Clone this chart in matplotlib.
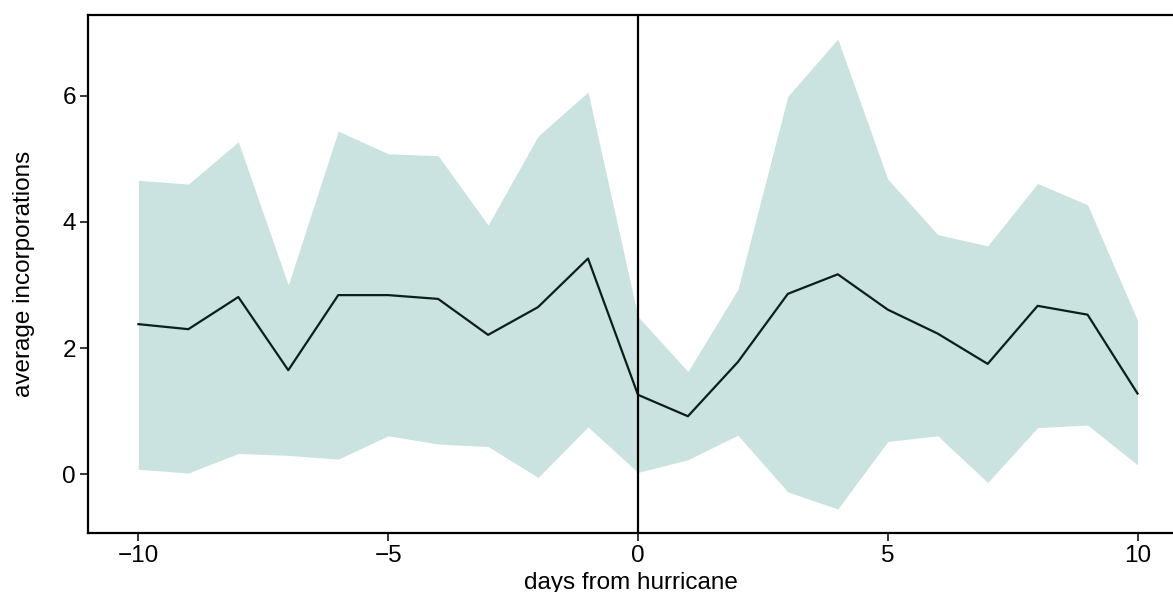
import numpy as np
import matplotlib.pyplot as plt

plt.rcParams['font.family'] = ['Liberation Sans', 'DejaVu Sans']

# days relative to landfall
days = list(range(-10, 11))

# mean incorporations per day, with lower/upper band
mean_inc = [2.38, 2.30, 2.81, 1.65, 2.84, 2.84, 2.78, 2.21, 2.65, 3.42, 1.26,
            0.92, 1.78, 2.86, 3.17, 2.61, 2.23, 1.75, 2.67, 2.53, 1.28]
upper = [4.66, 4.60, 5.27, 3.00, 5.44, 5.08, 5.05, 3.95, 5.36, 6.06, 2.50,
         1.63, 2.93, 5.99, 6.90, 4.68, 3.80, 3.62, 4.61, 4.27, 2.44]
lower = [0.08, 0.02, 0.33, 0.30, 0.24, 0.61, 0.48, 0.44, -0.05, 0.75, 0.03,
         0.23, 0.62, -0.28, -0.55, 0.52, 0.61, -0.13, 0.74, 0.78, 0.15]

fig = plt.figure(figsize=(11.73, 5.92), dpi=100)
ax = fig.add_axes([0.0754, 0.0997, 0.9246, 0.875])

ax.fill_between(days, lower, upper, color='#cbe3e0', linewidth=0)
ax.plot(days, mean_inc, color='#0b1f1a', linewidth=1.6)
ax.axvline(0, color='black', linewidth=1.6)

ax.set_xlim(-11.0, 10.71)
ax.set_ylim(-0.93, 7.28)
ax.set_xticks([-10, -5, 0, 5, 10])
ax.set_yticks([0, 2, 4, 6])
ax.set_xticklabels(['\u221210', '\u22125', '0', '5', '10'])

for side in ['left', 'bottom', 'top']:
    ax.spines[side].set_linewidth(1.6)
ax.spines['right'].set_visible(False)

ax.tick_params(axis='both', direction='out', length=6, width=1.1,
               labelsize=17.5, colors='black', pad=3)

ax.set_xlabel('days from hurricane', fontsize=17.5, labelpad=3.5)
ax.set_ylabel('average incorporations', fontsize=17.5, labelpad=20)

fig.savefig('out.png', dpi=100)
